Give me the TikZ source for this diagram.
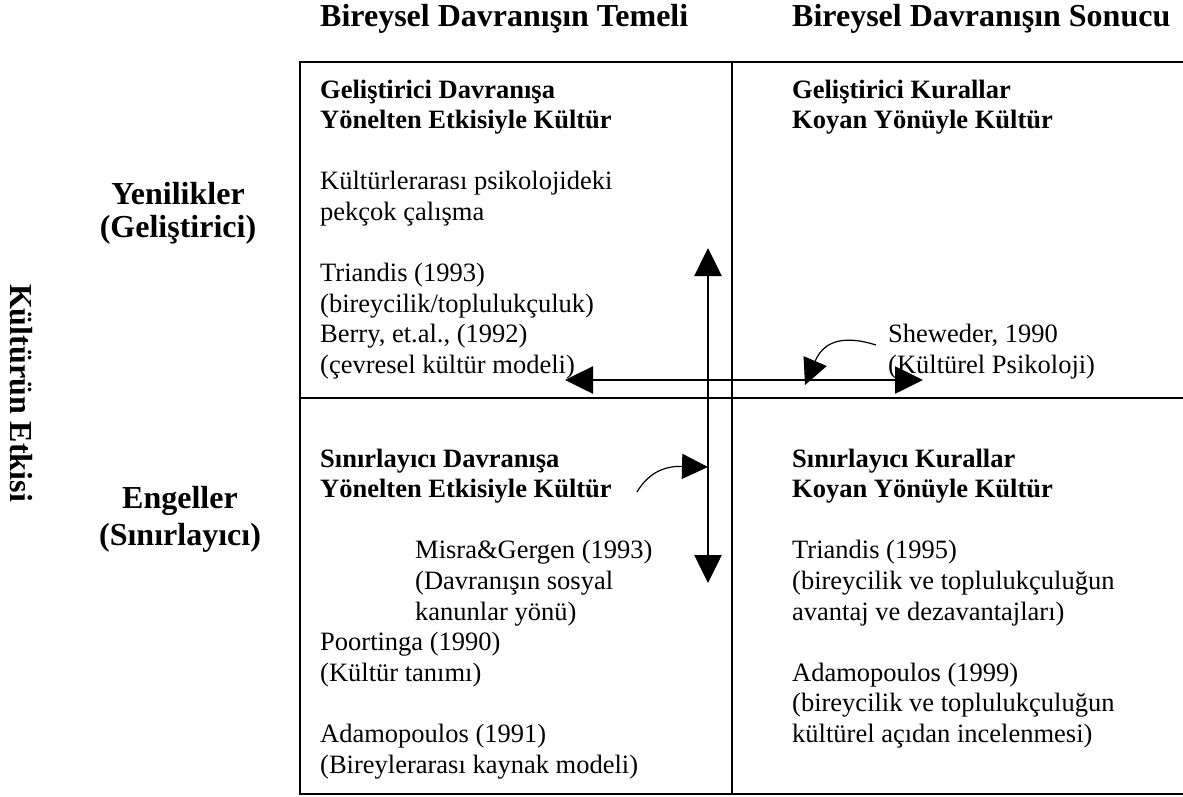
\documentclass[tikz,border=0pt]{standalone}
\usepackage{fontspec}
\setmainfont{Liberation Serif}
\usetikzlibrary{arrows.meta}

% left-aligned block of lines; the node's base anchor sits on the first baseline
\newcommand\txtblock[1]{\vtop{\baselineskip=30.6pt\lineskiplimit=-100pt\lineskip=0pt
  \halign{##\hfil\cr#1\crcr}}}

\begin{document}
\begin{tikzpicture}[x=1pt,y=-1pt,
  frame/.style={line width=2pt},
  divider/.style={line width=1.6pt},
  bigarrow/.style={line width=2.6pt,
    {Triangle[length=28pt,width=27pt]}-{Triangle[length=28pt,width=27pt]}},
  pointer/.style={line width=1.2pt,-{Triangle[length=26pt,width=25pt]}},
  txt/.style={inner sep=0pt,anchor=base west,font=\fontsize{26.5}{30.6}\selectfont},
  head/.style={inner sep=0pt,anchor=base west,font=\fontsize{32}{36.8}\selectfont\bfseries},
  rowlabel/.style={head,anchor=base}]
\useasboundingbox (0,0) rectangle (1183,796);

% outer frame (open to the right) and the two dividers
\draw[frame] (1190,62) -- (300,62) -- (300,794) -- (1190,794);
\draw[divider] (732,62) -- (732,794);
\draw[divider] (300,398) -- (1190,398);

% column headings
\node[head] (colA) at (320,26) {Bireysel Davranışın Temeli};
\node[head] (colB) at (792,26) {Bireysel Davranışın Sonucu};

% row headings and the vertical axis title
\node[rowlabel] (rowA1) at (178,204) {Yenilikler};
\node[rowlabel] (rowA2) at (178,237) {(Geliştirici)};
\node[rowlabel] (rowB1) at (180,508) {Engeller};
\node[rowlabel] (rowB2) at (180,545) {(Sınırlayıcı)};
\node[head,anchor=base,rotate=-90] (axis) at (10,393) {Kültürün Etkisi};

% upper left quadrant
\node[txt] (q1) at (320,98) {\txtblock{%
  \textbf{Geliştirici Davranışa}\cr
  \textbf{Yönelten Etkisiyle Kültür}\cr
  \cr
  Kültürlerarası psikolojideki\cr
  pekçok çalışma\cr
  \cr
  Triandis (1993)\cr
  (bireycilik/toplulukçuluk)\cr
  Berry, et.al., (1992)\cr
  (çevresel kültür modeli)}};

% upper right quadrant
\node[txt] (q2) at (792,98) {\txtblock{%
  \textbf{Geliştirici Kurallar}\cr
  \textbf{Koyan Yönüyle Kültür}}};
\node[txt] (shew) at (888,342.8) {\txtblock{%
  Sheweder, 1990\cr
  (Kültürel Psikoloji)}};

% lower left quadrant
\node[txt] (q3) at (320,467) {\txtblock{%
  \textbf{Sınırlayıcı Davranışa}\cr
  \textbf{Yönelten Etkisiyle Kültür}}};
\node[txt] (misra) at (415,558.8) {\txtblock{%
  Misra\&Gergen (1993)\cr
  (Davranışın sosyal\cr
  kanunlar yönü)}};
\node[txt] (poort) at (320,650.6) {\txtblock{%
  Poortinga (1990)\cr
  (Kültür tanımı)\cr
  \cr
  Adamopoulos (1991)\cr
  (Bireylerarası kaynak modeli)}};

% lower right quadrant
\node[txt] (q4) at (792,467) {\txtblock{%
  \textbf{Sınırlayıcı Kurallar}\cr
  \textbf{Koyan Yönüyle Kültür}\cr
  \cr
  Triandis (1995)\cr
  (bireycilik ve toplulukçuluğun\cr
  avantaj ve dezavantajları)\cr
  \cr
  Adamopoulos (1999)\cr
  (bireycilik ve toplulukçuluğun\cr
  kültürel açıdan incelenmesi)}};

% double-headed arrows crossing the centre
\coordinate (vtop) at (708,248);
\coordinate (vbot) at (708,583);
\coordinate (hl) at (565,380);
\coordinate (hr) at (923,380);
\draw[bigarrow] (vbot) -- (vtop);
\draw[bigarrow] (hl) -- (hr);

% curved pointers
\coordinate (s1) at (876,345);
\coordinate (t1) at (805,385);
\draw[pointer] (s1) .. controls (838,333) and (822,345) .. (t1);
\coordinate (s2) at (637,492);
\coordinate (t2) at (708,467);
\draw[pointer] (s2) .. controls (650,470) and (668,466) .. (t2);
\end{tikzpicture}
\end{document}
